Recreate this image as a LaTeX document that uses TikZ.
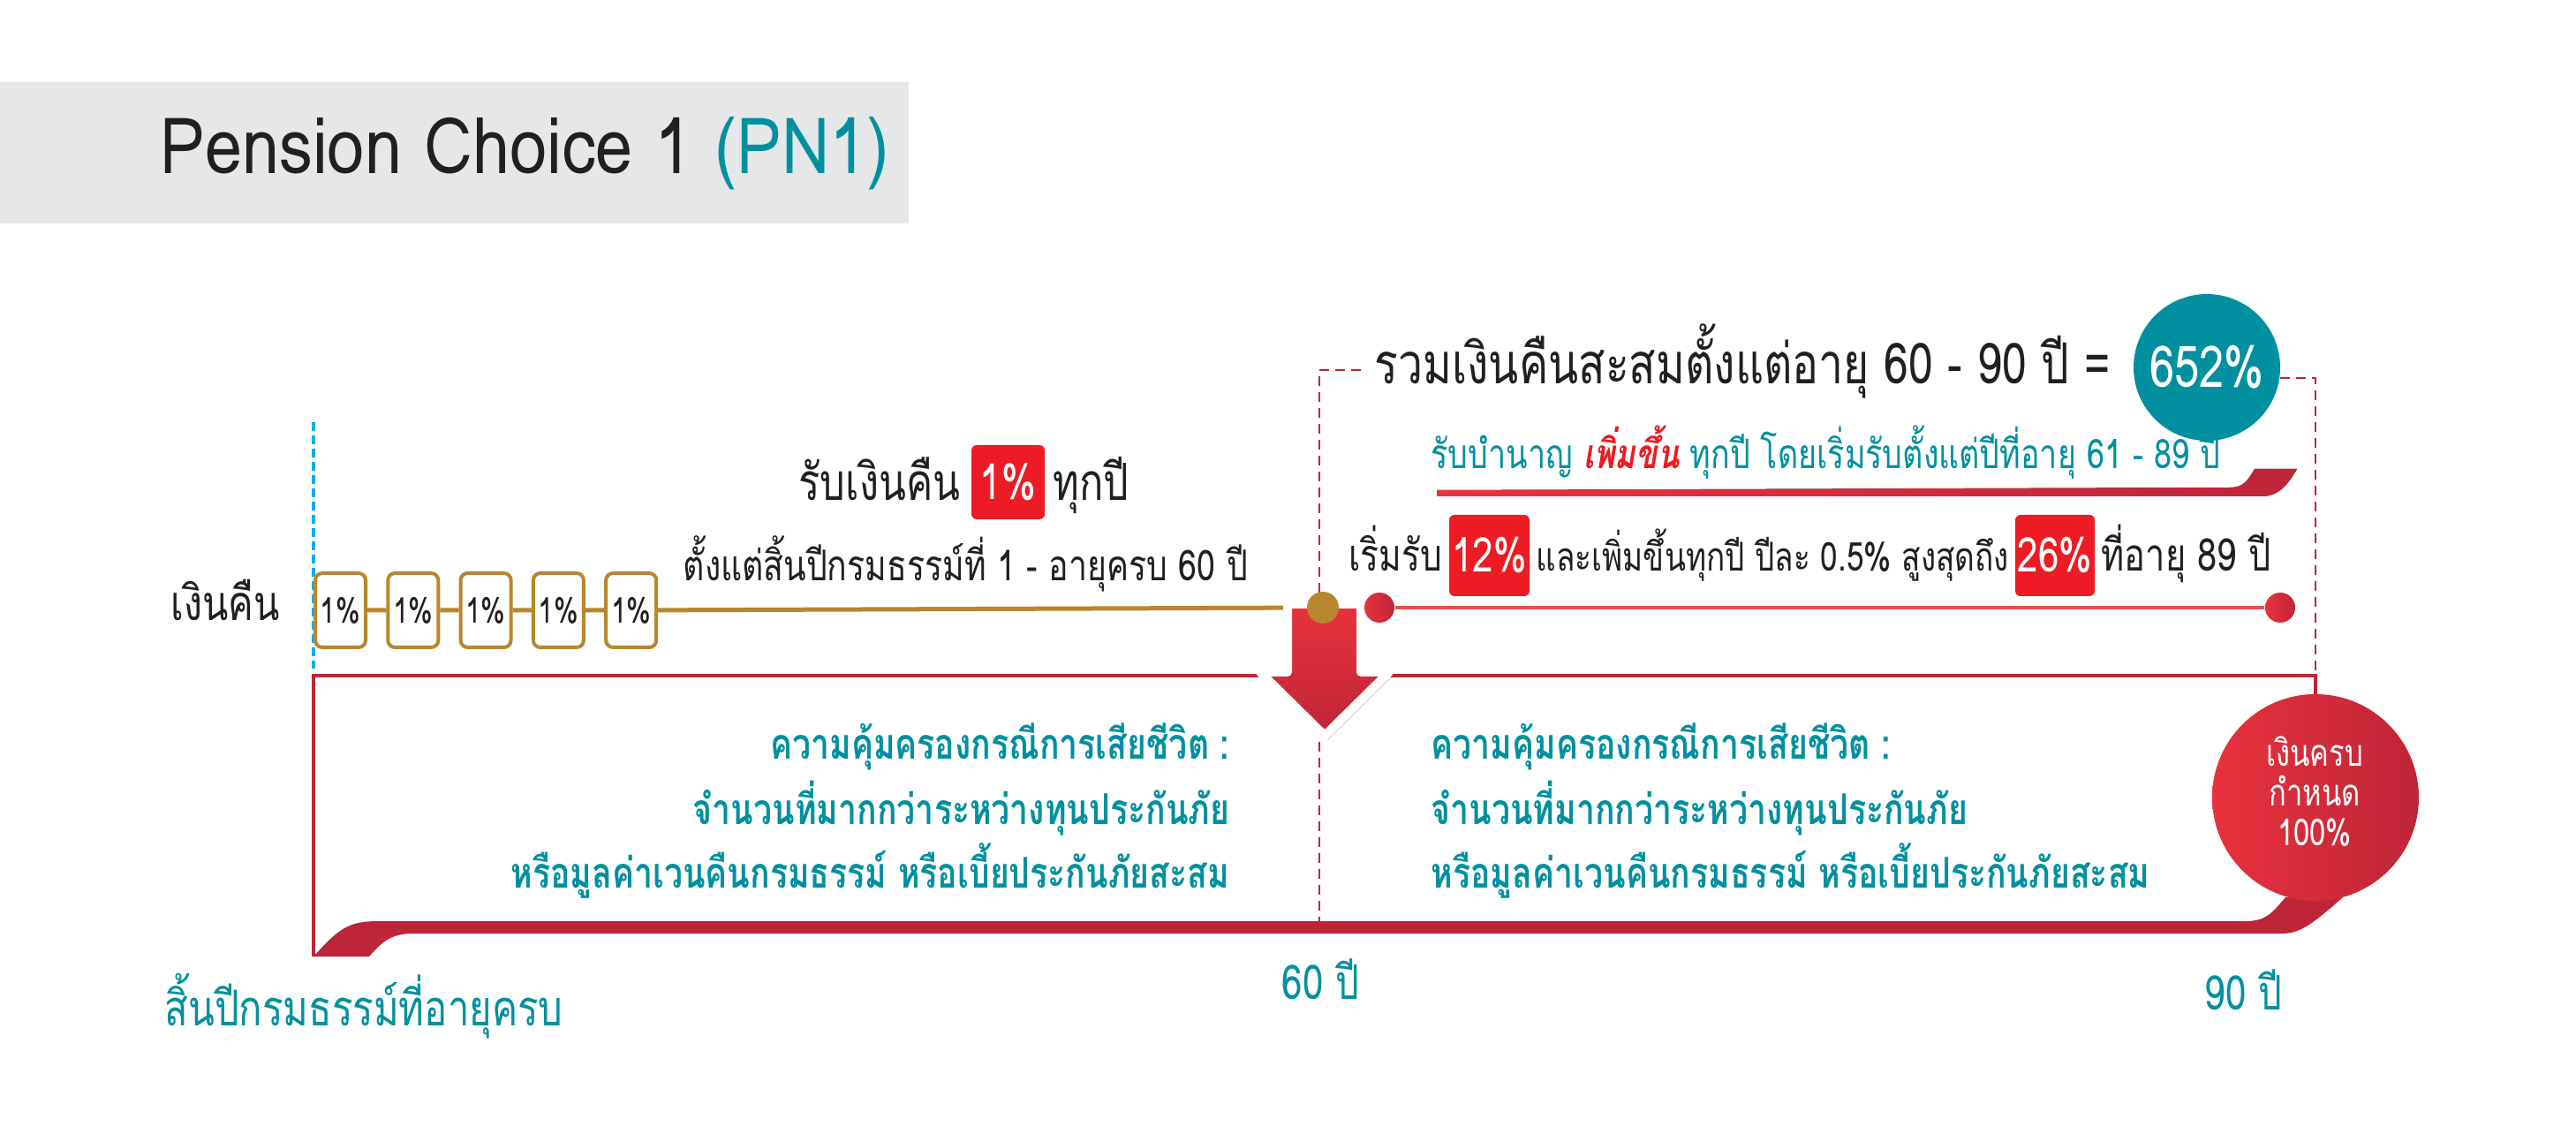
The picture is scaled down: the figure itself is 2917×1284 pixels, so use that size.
\documentclass[tikz,border=0pt]{standalone}
\usepackage{fontspec}
\usepackage{xcolor}
\usepackage{tikz}
\usetikzlibrary{calc,positioning,shadows}
\setmainfont{Loma}[Script=Thai,FakeStretch=0.78]
\newfontfamily\ttlfont{Loma}[FakeStretch=0.86]
\definecolor{ink}{HTML}{231F20}
\definecolor{pteal}{HTML}{00909F}
\definecolor{pgrey}{HTML}{E6E7E8}
\definecolor{pgold}{HTML}{B8862F}
\definecolor{pred}{HTML}{ED1C24}
\definecolor{dred}{HTML}{BE2538}
\definecolor{lred}{HTML}{E8323C}
\definecolor{lnred}{HTML}{F04E4E}
\definecolor{pcyan}{HTML}{00B0E8}
\newcommand\fpx[1]{\fontsize{\dimexpr 0.1mm*#1\relax}{\dimexpr 0.12mm*#1\relax}\selectfont}
\tikzset{
  txt/.style={inner sep=0pt, text=ink},
  cov/.style={inner sep=0pt, text=pteal, font=\fpx{48}\bfseries},
  pct/.style={draw=pgold, line width=0.4mm, fill=white, rounded corners=0.8mm, minimum width=5.7mm, minimum height=8.4mm, inner sep=0pt, text=ink, font=\fpx{40}},
  rbox/.style={fill=pred, rounded corners=0.6mm, inner sep=0pt, text=white},
  gdot/.style={circle, fill=pgold, minimum size=3.6mm, inner sep=0pt},
  rdot/.style={circle, left color=lred, right color=dred, minimum size=3.4mm, inner sep=0pt},
  gline/.style={draw=pgold, line width=0.5mm},
  rline/.style={draw=lnred, line width=0.45mm},
  rdash/.style={draw=dred, line width=0.25mm, dash pattern=on 1.1mm off 0.7mm},
  boxline/.style={draw=dred, line width=0.4mm},
}
\begin{document}
\begin{tikzpicture}[x=0.1mm,y=-0.1mm]
  \useasboundingbox (0,0) rectangle (2917,1284);
  \fill[white] (0,0) rectangle (2917,1284);
  % title bar
  \fill[pgrey] (0,93) rectangle (1029,253);
  \node[txt, anchor=base west, font=\ttlfont\fpx{88}] (title) at (181,197) {Pension Choice 1 \textcolor{pteal}{(PN1)}};
  % guide lines
  \coordinate (c0) at (355,478);
  \coordinate (c1) at (355,757);
  \draw[draw=pcyan, line width=0.4mm, dash pattern=on 1mm off 0.5mm] (c0) -- (c1);
  \coordinate (dl0) at (1541,419);
  \coordinate (dl1) at (1494,419);
  \coordinate (dl2) at (1494,1043);
  \coordinate (dr0) at (2582,428);
  \coordinate (dr1) at (2622,428);
  \coordinate (dr2) at (2622,765);
  \draw[rdash] (dl0) -- (dl1) -- (dl2);
  \draw[rdash] (dr0) -- (dr1) -- (dr2);
  % frame and bottom band
  \coordinate (f0) at (355,1083);
  \coordinate (f1) at (355,765);
  \coordinate (f2) at (2622,765);
  \coordinate (f3) at (2622,795);
  \draw[boxline] (f0) -- (f1) -- (f2) -- (f3);
  \fill[dred] (355,1083) .. controls (385,1050) and (395,1043) .. (430,1043)
    -- (2543,1043) .. controls (2565,1043) and (2572,1035) .. (2588,1016)
    -- (2653,1016) .. controls (2620,1045) and (2605,1057) .. (2585,1057)
    -- (467,1057) .. controls (440,1057) and (430,1070) .. (418,1083) -- cycle;
  % yearly 1% boxes
  \node[txt, anchor=base, font=\fpx{55}] (cash) at (255,703) {เงินคืน};
  \foreach \i in {0,...,4}
    \node[pct] (p\i) at ({385.5+82.3*\i},691) {1\%};
  \coordinate (g60) at (1498,688);
  \draw[gline] (p0) -- (p1) -- (p2) -- (p3) -- (p4) -- (g60);
  \node[rbox, minimum width=8.3mm, minimum height=8.4mm, font=\fpx{56}] (b1) at (1141.5,546) {1\%};
  \node[txt, anchor=base east, font=\fpx{58}] (get) at (1088,567) {รับเงินคืน};
  \node[txt, anchor=base west, font=\fpx{58}] (every) at (1192,567) {ทุกปี};
  \node[txt, anchor=base west, font=\fpx{48}] (from) at (773,658) {ตั้งแต่สิ้นปีกรมธรรม์ที่ 1 - อายุครบ 60 ปี};
  % arrow at age 60
  \draw[draw=white, line width=1mm, line join=round, top color=lred, bottom color=dred,
    drop shadow={fill=black, opacity=0.15, shadow xshift=0.4mm, shadow yshift=-0.5mm}]
    (1458,684) -- (1541,684) -- (1541,761) -- (1573,761) -- (1500,833) -- (1427,761) -- (1458,761) -- cycle;
  \node[gdot] (g) at (g60) {};
  % pension 61 - 89
  \node[rdot] (r61) at (1562,688) {};
  \node[rdot] (r89) at (2582,688) {};
  \draw[rline] (r61) -- (r89);
  \node[rbox, minimum width=9.1mm, minimum height=9.2mm, font=\fpx{54}] (b12) at (1686.5,629) {12\%};
  \node[rbox, minimum width=9.0mm, minimum height=9.2mm, font=\fpx{54}] (b26) at (2327,629) {26\%};
  \node[txt, anchor=base east, font=\fpx{50}] (start) at (1634,647) {เริ่มรับ};
  \node[txt, anchor=base west, font=\fpx{45}] (rise) at (1739,647) {และเพิ่มขึ้นทุกปี ปีละ 0.5\% สูงสุดถึง};
  \node[txt, anchor=base west, font=\fpx{51}] (age89) at (2379,647) {ที่อายุ 89 ปี};
  \fill[left color=lred, right color=dred] (1627,555) -- (2525,552) .. controls (2540,552) and (2545,545) .. (2553,531)
    -- (2601,531) .. controls (2590,550) and (2580,562) .. (2560,562) -- (1627,562) -- cycle;
  \node[txt, anchor=base west, text=pteal, font=\fpx{46}] (inc) at (1620,531) {รับบำนาญ \textcolor{pred}{\bfseries\itshape เพิ่มขึ้น} ทุกปี โดยเริ่มรับตั้งแต่ปีที่อายุ 61 - 89 ปี};
  \node[txt, anchor=base west, font=\fpx{64}] (sum) at (1556,435) {รวมเงินคืนสะสมตั้งแต่อายุ 60 - 90 ปี =};
  \node[circle, fill=pteal, minimum size=16.6mm, inner sep=0pt, text=white, font=\fpx{65}] (tot) at (2499,416) {652\%};
  % death cover
  \node[cov, anchor=base east] (l1) at (1393,860) {ความคุ้มครองกรณีการเสียชีวิต :};
  \node[cov, anchor=base east] (l2) at (1393,933) {จำนวนที่มากกว่าระหว่างทุนประกันภัย};
  \node[cov, anchor=base east] (l3) at (1393,1005) {หรือมูลค่าเวนคืนกรมธรรม์ หรือเบี้ยประกันภัยสะสม};
  \node[cov, anchor=base west] (r1) at (1620,860) {ความคุ้มครองกรณีการเสียชีวิต :};
  \node[cov, anchor=base west] (r2) at (1620,933) {จำนวนที่มากกว่าระหว่างทุนประกันภัย};
  \node[cov, anchor=base west] (r3) at (1620,1005) {หรือมูลค่าเวนคืนกรมธรรม์ หรือเบี้ยประกันภัยสะสม};
  % maturity
  \node[circle, left color=lred, right color=dred, minimum size=23.4mm, inner sep=0pt] (mat) at (2622,903) {};
  \node[txt, anchor=base, text=white, font=\fpx{42}] (m1) at (2621,868) {เงินครบ};
  \node[txt, anchor=base, text=white, font=\fpx{42}] (m2) at (2621,913) {กำหนด};
  \node[txt, anchor=base, text=white, font=\fpx{42}] (m3) at (2621,958) {100\%};
  % axis labels
  \node[txt, anchor=base west, text=pteal, font=\fpx{56}] (a0) at (186,1161) {สิ้นปีกรมธรรม์ที่อายุครบ};
  \node[txt, anchor=base west, text=pteal, font=\fpx{54}] (a60) at (1451,1132) {60 ปี};
  \node[txt, anchor=base west, text=pteal, font=\fpx{54}] (a90) at (2496,1143) {90 ปี};
\end{tikzpicture}
\end{document}
